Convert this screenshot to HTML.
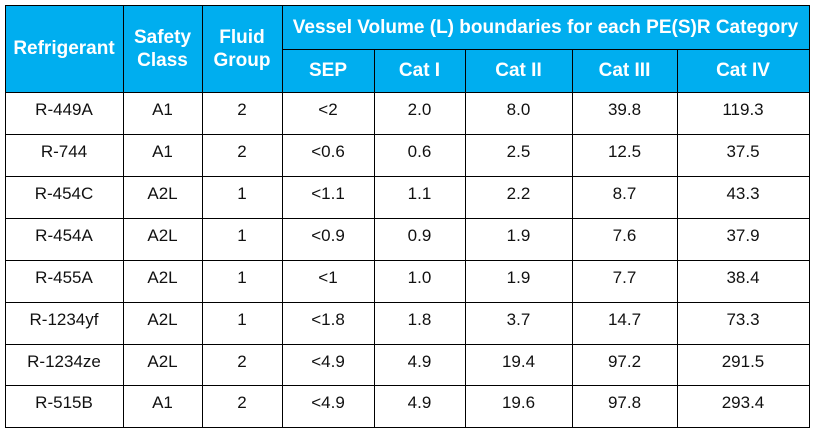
<!DOCTYPE html>
<html><head><meta charset="utf-8">
<style>
body{margin:0;width:813px;height:432px;background:#fff;position:relative;overflow:hidden;font-family:"Liberation Sans","DejaVu Sans",sans-serif;}
.c{position:absolute;box-sizing:border-box;text-align:center;}
.h{background:#00aeef;color:#fff;font-weight:bold;font-size:19px;display:flex;align-items:center;justify-content:center;line-height:23px;}
.d{color:#111;font-size:17px;padding-top:8px;}
.ln{position:absolute;background:#000;}
</style></head><body>
<div id="t"></div>
<script>
const refrigerants=["R-449A","R-744","R-454C","R-454A","R-455A","R-1234yf","R-1234ze","R-515B"];
const safetyClass=["A1","A1","A2L","A2L","A2L","A2L","A2L","A1"];
const fluidGroup=["2","2","1","1","1","1","2","2"];
const sep=["<2","<0.6","<1.1","<0.9","<1","<1.8","<4.9","<4.9"];
const cat1=["2.0","0.6","1.1","0.9","1.0","1.8","4.9","4.9"];
const cat2=["8.0","2.5","2.2","1.9","1.9","3.7","19.4","19.6"];
const cat3=["39.8","12.5","8.7","7.6","7.7","14.7","97.2","97.8"];
const cat4=["119.3","37.5","43.3","37.9","38.4","73.3","291.5","293.4"];
const xs=[5,123,202,282,374,465,572,677,809];
const ys=[92,134,176,218,260,302,344,385,427];
const t=document.getElementById('t');
function cell(x1,x2,y1,y2,txt,cls,name){
  const e=document.createElement('div');
  e.className='c '+cls;
  e.style.left=x1+'px';e.style.top=y1+'px';e.style.width=(x2-x1)+'px';e.style.height=(y2-y1)+'px';
  e.innerHTML=txt;
  
  
  t.appendChild(e);
}
cell(5,123,5,92,'Refrigerant','h','header-refrigerant');
cell(123,202,5,92,'Safety<br>Class','h','header-safety-class');
cell(202,282,5,92,'Fluid<br>Group','h','header-fluid-group');
cell(282,809,5,49,'Vessel Volume (L) boundaries for each PE(S)R Category','h','header-vessel-volume');
const subs=["SEP","Cat I","Cat II","Cat III","Cat IV"];
for(let i=0;i<5;i++){cell(xs[i+3],xs[i+4],49,92,subs[i],'h','header-'+subs[i].toLowerCase().replace(' ','-'));}
const cols=[refrigerants,safetyClass,fluidGroup,sep,cat1,cat2,cat3,cat4];
for(let r=0;r<refrigerants.length;r++){
  for(let c=0;c<cols.length;c++){
    cell(xs[c],xs[c+1],ys[r],ys[r+1],cols[c][r].replace('<','&lt;'),'d','cell-r'+(r+1)+'-c'+(c+1));
  }
}
function line(x,y,w,h,name){
  const e=document.createElement('div');e.className='ln';
  e.style.left=x+'px';e.style.top=y+'px';e.style.width=w+'px';e.style.height=h+'px';
  
  
  t.appendChild(e);
}
line(5,5,805,1,'border-top');
line(282,49,527,1,'header-divider');
ys.forEach((y,i)=>line(5,y,805,1,'row-line'));
line(5,5,1,423,'border-left');
line(123,5,1,423,'col-line');line(202,5,1,423,'col-line');line(282,5,1,423,'col-line');
for(let i=4;i<8;i++)line(xs[i],49,1,379,'col-line');
line(809,5,1,423,'border-right');
</script>
</body></html>
